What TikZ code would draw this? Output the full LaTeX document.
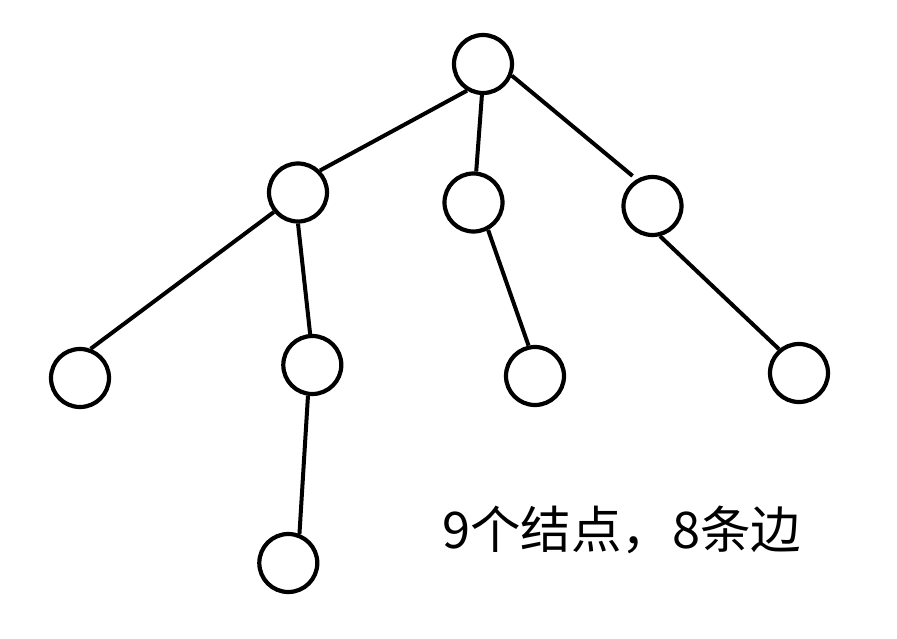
\documentclass[tikz,border=0pt]{standalone}
\usepackage{fontspec}
\newfontfamily\cjkfont{Noto Sans CJK SC}
\begin{document}
\begin{tikzpicture}[x=1pt,y=-1pt,
  vert/.style={circle,draw=black,line width=4.2pt,minimum size=58pt,inner sep=0pt},
  edge/.style={draw=black,line width=4pt}]
\useasboundingbox[fill=white] (0,0) rectangle (897,639);
\node[vert] (r)  at (483,64) {};
\node[vert] (a)  at (298,192.5) {};
\node[vert] (b)  at (473.5,202.5) {};
\node[vert] (c)  at (652.5,206) {};
\node[vert] (a1) at (80,378) {};
\node[vert] (a2) at (312.3,365) {};
\node[vert] (b1) at (535,376) {};
\node[vert] (c1) at (799,373) {};
\node[vert] (a3) at (288.3,563) {};
\draw[edge] (r.239.5) -- (a.45.5);
\draw[edge] (r.268) -- (b.85.4);
\draw[edge] (r.338) -- ([shift={(-3,-4)}]c.123);
\draw[edge] (a.219.3) -- (a1.70.3);
\draw[edge] (a.270) -- (a2.94.2);
\draw[edge] (b.298.3) -- (b1.102.2);
\draw[edge] (c.284.5) -- (c1.130.2);
\draw[edge] (a2.262.4) -- (a3.69.7);
\node[anchor=base west,inner sep=0pt,font=\cjkfont\fontsize{50.5}{58}\selectfont] (t) at (442,548) {9个结点，8条边};
\end{tikzpicture}
\end{document}
